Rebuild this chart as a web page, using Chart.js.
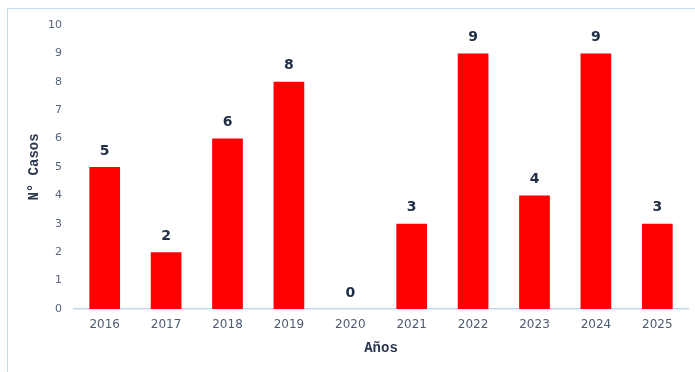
<!DOCTYPE html>
<html>
<head>
<meta charset="utf-8">
<script src="https://cdn.jsdelivr.net/npm/chart.js@4/dist/chart.umd.min.js"></script>
<style>
  html, body { margin: 0; padding: 0; background: #fff; }
  #wrap { position: relative; width: 695px; height: 372px; overflow: hidden; }
  #frame { position: absolute; left: 7px; top: 8px; width: 800px; height: 500px;
           border: 1px solid #c9d9ee; box-sizing: border-box; }
  canvas { position: absolute; left: 0; top: 0; }
</style>
</head>
<body>
<div id="wrap">
  <div id="frame"></div>
  <canvas id="c" width="695" height="372"></canvas>
</div>
<script>
const years = ['2016', '2017', '2018', '2019', '2020', '2021', '2022', '2023', '2024', '2025'];
const cases = [5, 2, 6, 8, 0, 3, 9, 4, 9, 3];
const yTicks = [0, 1, 2, 3, 4, 5, 6, 7, 8, 9, 10];

// Writes each bar's value just above it
const valueLabels = {
  id: 'valueLabels',
  afterDatasetsDraw(chart) {
    const ctx = chart.ctx;
    const meta = chart.getDatasetMeta(0);
    ctx.save();
    ctx.font = 'bold 14px "DejaVu Sans", sans-serif';
    ctx.fillStyle = '#1f2d45';
    ctx.textAlign = 'center';
    ctx.textBaseline = 'bottom';
    meta.data.forEach((bar, i) => {
      ctx.fillText(String(cases[i]), bar.x, bar.y - 9);
    });
    ctx.restore();
  }
};

new Chart(document.getElementById('c'), {
  type: 'bar',
  data: {
    labels: years,
    datasets: [{
      data: cases,
      backgroundColor: '#ff0000',
      borderWidth: 0,
      barPercentage: 0.5,
      categoryPercentage: 1.0
    }]
  },
  options: {
    responsive: false,
    animation: false,
    layout: { padding: { left: 26, right: 7, top: 25, bottom: 15 } },
    plugins: { legend: { display: false }, tooltip: { enabled: false } },
    scales: {
      x: {
        grid: { display: false, drawTicks: false },
        border: { display: true, color: '#c5d6ec', width: 1.5 },
        ticks: { color: '#4d5b70', font: { family: '"DejaVu Sans", sans-serif', size: 12 }, padding: 9 },
        title: {
          display: true, text: 'Años', color: '#2a3650',
          font: { family: '"Liberation Mono", monospace', size: 14, weight: 'bold' },
          padding: { top: 4, bottom: 0 }
        },
        afterFit(scale) { scale.height = 48; }
      },
      y: {
        min: 0, max: 10,
        afterBuildTicks(scale) { scale.ticks = yTicks.map(v => ({ value: v })); },
        grid: { display: false, drawTicks: false },
        border: { display: false },
        ticks: { color: '#56647a', font: { family: '"DejaVu Sans", sans-serif', size: 11 }, padding: 12 },
        title: {
          display: true, text: 'N° Casos', color: '#2a3650',
          font: { family: '"Liberation Mono", monospace', size: 14, weight: 'bold' },
          padding: { top: 0, bottom: 0 }
        },
        afterFit(scale) { scale.width = 48; }
      }
    }
  },
  plugins: [valueLabels]
});
</script>
</body>
</html>
